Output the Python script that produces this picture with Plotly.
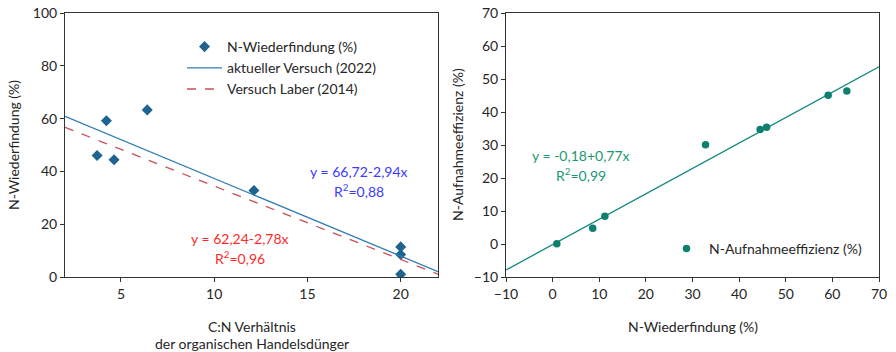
import plotly.graph_objects as go
import numpy as np

# ---- data ----
cn_ratio = [3.72, 4.22, 4.63, 6.41, 12.13, 20.0, 20.0, 20.0]
n_wiederfindung = [46.0, 59.2, 44.4, 63.3, 32.8, 11.4, 8.5, 1.0]

wf_x = [0.9, 8.6, 11.2, 32.8, 44.5, 45.9, 59.1, 63.1]
aufnahme_y = [0.1, 4.8, 8.4, 30.1, 34.7, 35.4, 45.1, 46.4]

fit_2022 = (66.72, -2.94)
fit_2014 = (62.24, -2.78)
fit_right = (-0.18, 0.77)

left_xrange = [2, 22]
right_xrange = [-10, 70]

W, H = 896, 352
FONT = "Lato"
TXT = "#262626"

def px(x):
    return x / W

def py(y):
    return 1 - y / H

fig = go.Figure()

lx = np.array(left_xrange, dtype=float)
rx = np.array(right_xrange, dtype=float)

fig.add_trace(go.Scatter(x=cn_ratio, y=n_wiederfindung, mode="markers",
                         name="N-Wiederfindung (%)",
                         marker=dict(symbol="diamond", size=8.5, color="#1f6391"),
                         xaxis="x", yaxis="y", legend="legend"))
fig.add_trace(go.Scatter(x=lx, y=fit_2022[0] + fit_2022[1] * lx, mode="lines",
                         name="aktueller Versuch (2022)",
                         line=dict(color="#2e7bb5", width=1.3),
                         xaxis="x", yaxis="y", legend="legend"))
fig.add_trace(go.Scatter(x=lx, y=fit_2014[0] + fit_2014[1] * lx, mode="lines",
                         name="Versuch Laber (2014)",
                         line=dict(color="#c8505a", width=1.3, dash="dash"),
                         xaxis="x", yaxis="y", legend="legend"))

fig.add_trace(go.Scatter(x=rx, y=fit_right[0] + fit_right[1] * rx, mode="lines",
                         showlegend=False,
                         line=dict(color="#12897c", width=1.3),
                         xaxis="x2", yaxis="y2"))
fig.add_trace(go.Scatter(x=wf_x, y=aufnahme_y, mode="markers",
                         name="N-Aufnahmeeffizienz (%)",
                         marker=dict(symbol="circle", size=7.5, color="#0e8070"),
                         xaxis="x2", yaxis="y2", legend="legend2"))

ydom = [py(277), py(13)]
axis_common = dict(showgrid=False, zeroline=False, showline=True, linecolor="#333",
                   linewidth=1, mirror=True, ticks="outside", ticklen=4,
                   tickcolor="#333", automargin=False,
                   tickfont=dict(family=FONT, size=14, color=TXT))

fig.update_layout(
    width=W, height=H,
    margin=dict(l=0, r=0, t=0, b=0, autoexpand=False),
    paper_bgcolor="white", plot_bgcolor="white",
    font=dict(family=FONT, size=13, color=TXT),
    xaxis=dict(domain=[px(65), px(438)], range=left_xrange, tickvals=[5, 10, 15, 20],
               anchor="y", **axis_common),
    yaxis=dict(domain=ydom, range=[0, 100], dtick=20, anchor="x", **axis_common),
    xaxis2=dict(domain=[px(506), px(879)], range=right_xrange, dtick=10,
                anchor="y2", **axis_common),
    yaxis2=dict(domain=ydom, range=[-10, 70], dtick=10, anchor="x2", **axis_common),
    legend=dict(x=px(182), y=py(31), xanchor="left", yanchor="top",
                bgcolor="rgba(0,0,0,0)", font=dict(family=FONT, size=14, color=TXT),
                tracegroupgap=0, itemwidth=35),
    legend2=dict(x=px(664), y=py(233), xanchor="left", yanchor="top",
                 bgcolor="rgba(0,0,0,0)", font=dict(family=FONT, size=14, color=TXT),
                 itemwidth=35),
    showlegend=True,
)

ann = [
    dict(text="N-Wiederfindung (%)", x=px(14), y=py(145), textangle=-90),
    dict(text="C:N Verhältnis", x=px(252), y=py(326)),
    dict(text="der organischen Handelsdünger", x=px(252), y=py(343)),
    dict(text="N-Aufnahmeeffizienz (%)", x=px(458), y=py(145), textangle=-90),
    dict(text="N-Wiederfindung (%)", x=px(693), y=py(326)),
    dict(text="y = 66,72-2,94x", x=px(359), y=py(171), color="#3a3aff"),
    dict(text="R<sup>2</sup>=0,88", x=px(359), y=py(190), color="#3a3aff"),
    dict(text="y = 62,24-2,78x", x=px(240), y=py(238), color="#ff2a2a"),
    dict(text="R<sup>2</sup>=0,96", x=px(240), y=py(257), color="#ff2a2a"),
    dict(text="y = -0,18+0,77x", x=px(581), y=py(155), color="#1a9a72"),
    dict(text="R<sup>2</sup>=0,99", x=px(581), y=py(174), color="#1a9a72"),
]
for a in ann:
    fig.add_annotation(text=a["text"], x=a["x"], y=a["y"], xref="paper", yref="paper",
                       showarrow=False, xanchor="center", yanchor="middle",
                       textangle=a.get("textangle", 0),
                       font=dict(family=FONT, size=14, color=a.get("color", TXT)))

fig.write_html("out.html", config={"displayModeBar": False},
               post_script="document.body.style.margin='0';document.body.style.overflow='hidden';")
